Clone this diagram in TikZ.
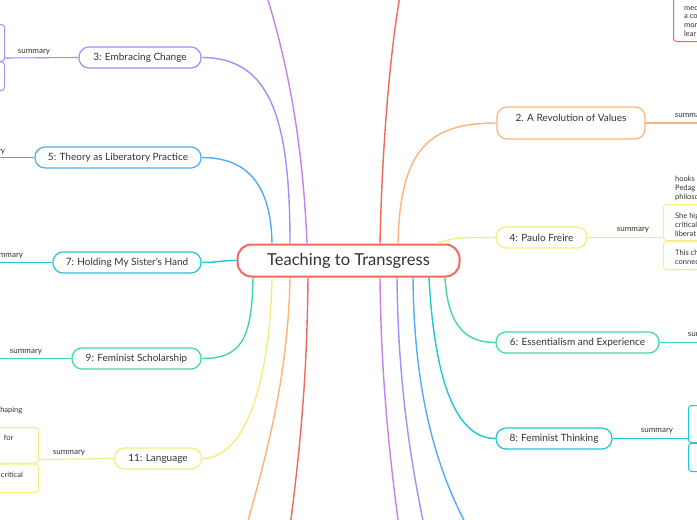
\documentclass[tikz,border=0pt]{standalone}
\usepackage{fontspec}
\setmainfont{Lato}
\definecolor{ink}{HTML}{333333}
\definecolor{cRed}{HTML}{F4675B}
\definecolor{cOrange}{HTML}{FFB27A}
\definecolor{cYellow}{HTML}{F6EC80}
\definecolor{cGreen}{HTML}{40D9A2}
\definecolor{cTeal}{HTML}{1FC6D3}
\definecolor{cBlue}{HTML}{52ABF4}
\definecolor{cLav}{HTML}{A48EF8}
\definecolor{cViolet}{HTML}{C681F0}
\tikzset{
  root/.style={draw=cRed,line width=2pt,rounded corners=14pt,fill=white,text=ink,
    minimum width=222pt,minimum height=32pt,inner sep=0pt,font=\fontsize{16.5}{18}\selectfont},
  topic/.style={draw=#1,line width=1.2pt,rounded corners=10pt,fill=white,text=ink,
    minimum height=21pt,inner sep=0pt,font=\fontsize{10}{12}\selectfont},
  link/.style={draw=#1,line width=1.4pt},
  tag/.style={text=ink,inner sep=0pt,anchor=base,font=\fontsize{8}{9}\selectfont},
  note/.style={text=ink,inner sep=0pt,anchor=base west,font=\fontsize{7.5}{9}\selectfont},
  leaf/.style={draw=#1,line width=1pt,rounded corners=3pt,inner sep=0pt,minimum width=60pt},
}
\begin{document}
\begin{tikzpicture}[x=1pt,y=-1pt]
\useasboundingbox (0,0) rectangle (697,520);
\clip (0,0) rectangle (697,520);
\fill[white] (0,0) rectangle (697,520);

% central topic and main topics
\node[root] (root) at (348.5,260.5) {Teaching to Transgress};
\node[topic=cLav,minimum width=122pt] (b3) at (140,57.5) {3: Embracing Change};
\node[topic=cBlue,minimum width=166pt] (b5) at (118,157.5) {5: Theory as Liberatory Practice};
\node[topic=cTeal,minimum width=148pt] (b7) at (127,262.5) {7: Holding My Sister's Hand};
\node[topic=cGreen,minimum width=129pt] (b9) at (136.5,358.5) {9: Feminist Scholarship};
\node[topic=cYellow,minimum width=87pt] (b11) at (158,458.5) {11: Language};
\node[topic=cOrange,minimum width=148pt,minimum height=32pt,text height=10pt,text depth=14pt,inner ysep=4pt] (b2) at (571,123) {2. A Revolution of Values};
\node[topic=cYellow,minimum width=91pt] (b4) at (541.5,237.5) {4: Paulo Freire};
\node[topic=cGreen,minimum width=163pt] (b6) at (577.5,342.5) {6: Essentialism and Experience};
\node[topic=cTeal,minimum width=116pt] (b8) at (554,438.5) {8: Feminist Thinking};

% where the branches leave the central topic
\coordinate (r5) at ([xshift=-76.5pt]root.north);
\coordinate (r3) at ([xshift=-58.5pt]root.north);
\coordinate (rv) at ([xshift=-41.5pt]root.north);
\coordinate (rr) at ([xshift=31.5pt]root.north);
\coordinate (r2) at ([xshift=49.5pt]root.north);
\coordinate (r4) at ([xshift=88pt]root.north);
\coordinate (r9) at ([xshift=-95.5pt]root.south);
\coordinate (r11) at ([xshift=-76.5pt]root.south);
\coordinate (ro) at ([xshift=-58.5pt]root.south);
\coordinate (rd) at ([xshift=-40.5pt]root.south);
\coordinate (rw) at ([xshift=31.5pt]root.south);
\coordinate (rl) at ([xshift=48.5pt]root.south);
\coordinate (rb) at ([xshift=64.5pt]root.south);
\coordinate (r8) at ([xshift=80.5pt]root.south);
\coordinate (r6) at ([xshift=96.5pt]root.south);

% branches running off the page
\coordinate (vt) at (265,-10);
\coordinate (rt) at (401,-10);
\coordinate (ob) at (244,535);
\coordinate (db) at (289,535);
\coordinate (wb) at (400,535);
\coordinate (lb) at (426,535);
\coordinate (bb) at (472,535);

\draw[link=cLav] (r3) .. controls +(0,-125) and +(69,0) .. (b3.east);
\draw[link=cBlue] (r5) .. controls +(-1,-55) and +(49,0) .. (b5.east);
\draw[link=cViolet] (rv) .. controls +(-4,-95) and +(25,80) .. (vt);
\draw[link=cRed] (rr) .. controls +(2,-95) and +(-11,60) .. (rt);
\draw[link=cOrange] (r2) .. controls +(2,-95) and +(-67,0) .. (b2.west);
\draw[link=cYellow] (r4) .. controls +(20,-7) and +(-30,0) .. (b4.west);
\draw[link=cTeal] (root.west) .. controls +(-18,0) and +(18,0) .. (b7.east);
\draw[link=cGreen] (r9) .. controls +(-1,63) and +(39,0) .. (b9.east);
\draw[link=cYellow] (r11) .. controls +(-2,103) and +(44,0) .. (b11.east);
\draw[link=cOrange] (ro) .. controls +(-2,103) and +(21,-75) .. (ob);
\draw[link=cRed] (rd) .. controls +(-1,103) and +(11,-85) .. (db);
\draw[link=cViolet] (rw) .. controls +(1,103) and +(-10,-75) .. (wb);
\draw[link=cLav] (rl) .. controls +(1,103) and +(-16,-75) .. (lb);
\draw[link=cBlue] (rb) .. controls +(1,113) and +(-37,-65) .. (bb);
\draw[link=cTeal] (r8) .. controls +(6,113) and +(-36,0) .. (b8.west);
\draw[link=cGreen] (r6) .. controls +(3,53) and +(-26,0) .. (b6.west);

% summary boxes
\node[leaf=cLav,minimum height=36.5pt,anchor=south east] (v3a) at (5,61.5) {};
\node[leaf=cLav,minimum height=28.5pt,anchor=north east] (v3b) at (5,61.5) {};
\node[leaf=cYellow,minimum height=35.5pt,anchor=south east] (y11a) at (39,463.5) {};
\node[leaf=cYellow,minimum height=28.5pt,anchor=north east] (y11b) at (39,463.5) {};
\node[leaf=cYellow,minimum height=36pt,anchor=south west] (y4a) at (663,241) {};
\node[leaf=cYellow,minimum height=28pt,anchor=north west] (y4b) at (663,241) {};
\node[leaf=cTeal,minimum height=37pt,anchor=south west] (t8a) at (688,443) {};
\node[leaf=cTeal,minimum height=28pt,anchor=north west] (t8b) at (688,443) {};
\node[leaf=cRed,minimum height=60pt,anchor=south west] (r1a) at (673,42) {};

% summary links
\coordinate (s3) at (5,58);
\coordinate (s5) at (-5,157.5);
\coordinate (s7) at (-5,262.5);
\coordinate (s9) at (-5,358.5);
\coordinate (s11) at (39,459.5);
\coordinate (s2) at (705,123);
\coordinate (s4) at (663,237.5);
\coordinate (s6) at (705,342.5);
\coordinate (s8) at (688,438.5);
\draw[link=cLav,line width=1.1pt] (b3.west) -- (s3);
\draw[link=cBlue,line width=1.1pt] (b5.west) -- (s5);
\draw[link=cTeal,line width=1.1pt] (b7.west) -- (s7);
\draw[link=cGreen,line width=1.1pt] (b9.west) -- (s9);
\draw[link=cYellow,line width=1.1pt] (b11.west) -- (s11);
\draw[link=cOrange,line width=1.1pt] (b2.east) -- (s2);
\draw[link=cYellow,line width=1.1pt] (b4.east) -- (s4);
\draw[link=cGreen,line width=1.1pt] (b6.east) -- (s6);
\draw[link=cTeal,line width=1.1pt] (b8.east) -- (s8);

\node[tag] (l3) at (34,53) {summary};
\node[tag] (l5) at (-11,153) {summary};
\node[tag] (l7) at (7,257) {summary};
\node[tag] (l9) at (26,353.5) {summary};
\node[tag] (l11) at (69,454) {summary};
\node[tag] (l2) at (691,117.5) {summary};
\node[tag] (l4) at (633,231.5) {summary};
\node[tag] (l6) at (704,336) {summary};
\node[tag] (l8) at (657,432.5) {summary};

% note lines cut by the page edge
\node[note] (n4a) at (675,181) {hooks};
\node[note] (n4b) at (675,190) {Pedag};
\node[note] (n4c) at (675,199) {philoso};
\node[note] (n4d) at (675,218) {She hig};
\node[note] (n4e) at (675,227) {critical};
\node[note] (n4f) at (675,236) {liberat};
\node[note] (n4g) at (675,255) {This ch};
\node[note] (n4h) at (675,264) {connec};
\node[note] (n1a) at (684,10) {mec};
\node[note] (n1b) at (684,18.5) {a co};
\node[note] (n1c) at (684,27) {mor};
\node[note] (n1d) at (684,36) {lear};
\node[note,anchor=base east] (n11a) at (22.5,412.5) {haping};
\node[note,anchor=base east] (n11b) at (13.5,440) {for};
\node[note,anchor=base east] (n11c) at (23,477.5) {critical};
\end{tikzpicture}
\end{document}
